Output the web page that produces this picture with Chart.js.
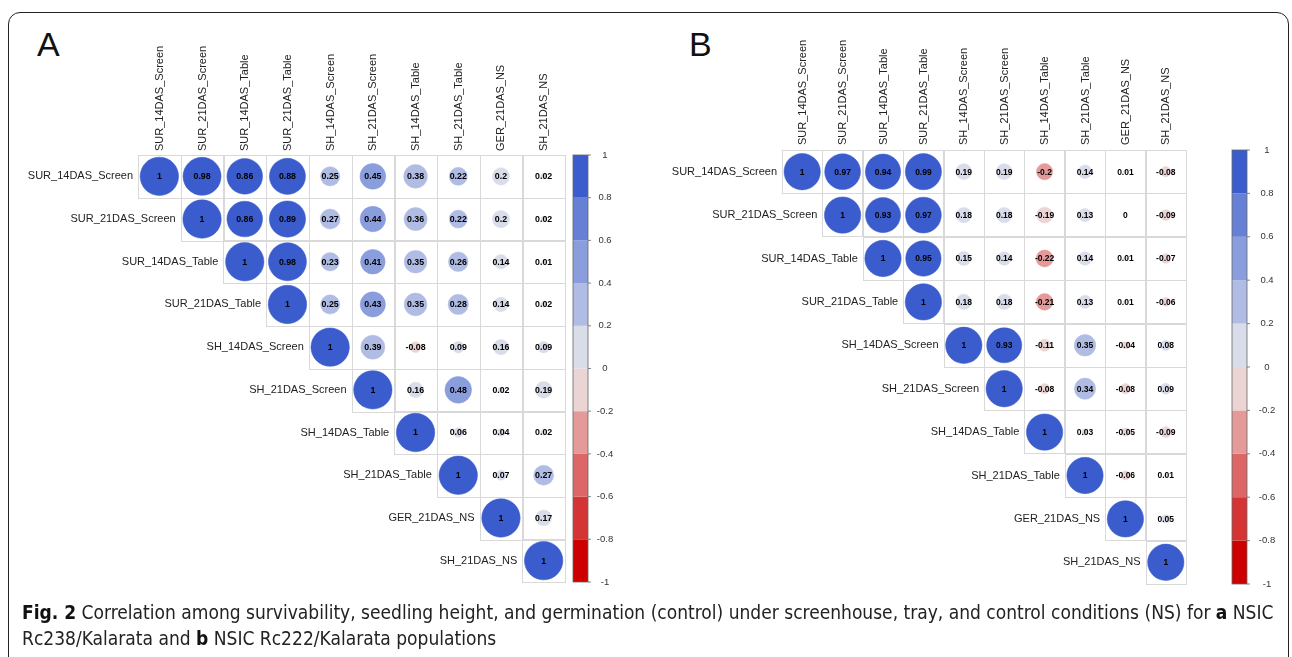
<!DOCTYPE html>
<html>
<head>
<meta charset="utf-8">
<script src="https://cdn.jsdelivr.net/npm/chart.js@4.4.1/dist/chart.umd.min.js"></script>
<style>
  html, body { margin: 0; padding: 0; background: #fff; }
  body { width: 1292px; height: 657px; position: relative; overflow: hidden; font-family: "Liberation Sans", Arial, sans-serif; }
  #frame { position: absolute; left: 8px; top: 12px; width: 1281px; height: 720px; border: 1.5px solid #222; border-radius: 12px; box-sizing: border-box; }
  .panel { position: absolute; top: 0; width: 646px; height: 600px; }
  .tag { position: absolute; top: 27px; font-size: 34px; line-height: 34px; color: #111; }
  #caption { position: absolute; left: 22px; top: 599px; font-family: "DejaVu Sans Condensed", "DejaVu Sans", sans-serif; font-size: 16px; line-height: 26px; color: #222; white-space: nowrap; }
  #caption b { color: #111; }
</style>
</head>
<body>
<div id="frame"></div>
<div class="tag" style="left:37px">A</div>
<div class="tag" style="left:689px">B</div>
<div class="panel" style="left:0"><canvas id="chartA" width="646" height="600"></canvas></div>
<div class="panel" style="left:646px"><canvas id="chartB" width="646" height="600"></canvas></div>
<div id="caption">
  <span id="cap1"><b>Fig. 2</b> Correlation among survivability, seedling height, and germination (control) under screenhouse, tray, and control conditions (NS) for <b>a</b> NSIC</span><br>
  <span>Rc238/Kalarata and <b>b</b> NSIC Rc222/Kalarata populations</span>
</div>
<script>
/* ================= DATA ================= */
const varNames = [
  "SUR_14DAS_Screen", "SUR_21DAS_Screen", "SUR_14DAS_Table", "SUR_21DAS_Table",
  "SH_14DAS_Screen", "SH_21DAS_Screen", "SH_14DAS_Table", "SH_21DAS_Table",
  "GER_21DAS_NS", "SH_21DAS_NS"
];

// upper triangle, each row starts at the diagonal
const corrA = [
  [1, 0.98, 0.86, 0.88, 0.25, 0.45, 0.38, 0.22, 0.2, 0.02],
  [1, 0.86, 0.89, 0.27, 0.44, 0.36, 0.22, 0.2, 0.02],
  [1, 0.98, 0.23, 0.41, 0.35, 0.26, 0.14, 0.01],
  [1, 0.25, 0.43, 0.35, 0.28, 0.14, 0.02],
  [1, 0.39, -0.08, 0.09, 0.16, 0.09],
  [1, 0.16, 0.48, 0.02, 0.19],
  [1, 0.06, 0.04, 0.02],
  [1, 0.07, 0.27],
  [1, 0.17],
  [1]
];

const corrB = [
  [1, 0.97, 0.94, 0.99, 0.19, 0.19, -0.2, 0.14, 0.01, -0.08],
  [1, 0.93, 0.97, 0.18, 0.18, -0.19, 0.13, 0, -0.09],
  [1, 0.95, 0.15, 0.14, -0.22, 0.14, 0.01, -0.07],
  [1, 0.18, 0.18, -0.21, 0.13, 0.01, -0.06],
  [1, 0.93, -0.11, 0.35, -0.04, 0.08],
  [1, -0.08, 0.34, -0.08, 0.09],
  [1, 0.03, -0.05, -0.09],
  [1, -0.06, 0.01],
  [1, 0.05],
  [1]
];

const legendTicks = [1, 0.8, 0.6, 0.4, 0.2, 0, -0.2, -0.4, -0.6, -0.8, -1];

// colour bins from -1 up to 1
const binColors = [
  "#CC0000", "#D43434", "#DD6767", "#E59A9A", "#EBD4D4",
  "#D9DDEA", "#B0BCE3", "#8A9DDD", "#6680D6", "#3B5CCD"
];

/* ================= HELPERS ================= */
function binColor(v) {
  let idx = Math.ceil((v + 1) / 2 * binColors.length) - 1;
  return binColors[Math.max(0, Math.min(binColors.length - 1, idx))];
}

function toPoints(rows) {
  const pts = [];
  rows.forEach((row, i) => {
    row.forEach((v, k) => {
      pts.push({ x: varNames[i + k], y: varNames[i], v });
    });
  });
  return pts;
}

function cellSize(chart) {
  const xs = chart.scales.x, ys = chart.scales.y;
  return {
    w: (xs.right - xs.left) / varNames.length,
    h: (ys.bottom - ys.top) / varNames.length
  };
}

const labelFont = "11px 'Liberation Sans', Arial, sans-serif";

/* ================= PLUGIN: grid, labels, numbers, colour bar ================= */
const corrDecor = {
  id: "corrDecor",
  beforeDatasetsDraw(chart, args, opts) {
    const { ctx } = chart;
    const xs = chart.scales.x, ys = chart.scales.y;
    const c = cellSize(chart);
    ctx.save();
    ctx.strokeStyle = "#D9D9D9";
    ctx.lineWidth = 1;
    opts.rows.forEach((row, i) => {
      row.forEach((v, k) => {
        const cx = xs.getPixelForValue(i + k), cy = ys.getPixelForValue(i);
        ctx.strokeRect(Math.round(cx - c.w / 2) + 0.5, Math.round(cy - c.h / 2) + 0.5, Math.round(c.w), Math.round(c.h));
      });
    });
    ctx.restore();
  },
  afterDatasetsDraw(chart, args, opts) {
    const { ctx } = chart;
    const xs = chart.scales.x, ys = chart.scales.y, cb = chart.scales.cb;
    const c = cellSize(chart);
    ctx.save();

    // coefficients
    ctx.fillStyle = "#000";
    ctx.textAlign = "center";
    ctx.textBaseline = "middle";
    ctx.font = "bold " + opts.numSize + "px 'Liberation Sans', Arial, sans-serif";
    opts.rows.forEach((row, i) => {
      row.forEach((v, k) => {
        ctx.fillText(String(v), xs.getPixelForValue(i + k), ys.getPixelForValue(i) + 0.5);
      });
    });

    // row labels next to the diagonal
    ctx.fillStyle = "#222";
    ctx.textAlign = "right";
    ctx.font = labelFont;
    varNames.forEach((name, i) => {
      ctx.fillText(name, xs.getPixelForValue(i) - c.w / 2 - 5, ys.getPixelForValue(i));
    });

    // column labels, rotated, above the grid
    ctx.textAlign = "left";
    varNames.forEach((name, j) => {
      ctx.save();
      ctx.translate(xs.getPixelForValue(j) + 0.5, chart.chartArea.top - opts.colGap);
      ctx.rotate(-Math.PI / 2);
      ctx.fillText(name, 0, 0);
      ctx.restore();
    });

    // colour bar
    const x0 = chart.chartArea.right + opts.cbGap, w = 15;
    binColors.forEach((col, k) => {
      const lo = -1 + k * 0.2, hi = lo + 0.2;
      const y1 = cb.getPixelForValue(hi), y2 = cb.getPixelForValue(lo);
      ctx.fillStyle = col;
      ctx.fillRect(x0, y1, w, y2 - y1);
    });
    ctx.strokeStyle = "#666";
    ctx.lineWidth = 0.8;
    ctx.strokeRect(x0, cb.getPixelForValue(1), w, cb.getPixelForValue(-1) - cb.getPixelForValue(1));

    ctx.fillStyle = "#333";
    ctx.textAlign = "center";
    ctx.font = "9.5px 'Liberation Sans', Arial, sans-serif";
    legendTicks.forEach(t => {
      const y = cb.getPixelForValue(t);
      ctx.beginPath();
      ctx.moveTo(x0 + w, y);
      ctx.lineTo(x0 + w + 3, y);
      ctx.stroke();
      ctx.fillText(String(t), x0 + w + opts.labelGap, y);
    });
    ctx.restore();
  }
};

/* ================= CHARTS ================= */
function makeChart(id, rows, pad, decor) {
  return new Chart(document.getElementById(id), {
    type: "scatter",
    data: {
      datasets: [{
        data: toPoints(rows),
        pointRadius: ctx => {
          if (!ctx.raw) return 0;
          const c = cellSize(ctx.chart);
          return 0.45 * Math.min(c.w, c.h) * Math.sqrt(Math.abs(ctx.raw.v));
        },
        pointBackgroundColor: ctx => ctx.raw ? binColor(ctx.raw.v) : "#fff",
        pointBorderColor: ctx => ctx.raw ? binColor(ctx.raw.v) : "#fff",
        pointBorderWidth: 0.5
      }]
    },
    options: {
      responsive: false,
      animation: false,
      events: [],
      layout: { padding: pad },
      plugins: {
        legend: { display: false },
        tooltip: { enabled: false },
        corrDecor: decor
      },
      scales: {
        x: {
          type: "category",
          labels: varNames,
          position: "top",
          offset: true,
          grid: { display: false, drawTicks: false },
          border: { display: false },
          ticks: { display: false },
          afterFit: s => { s.height = 115; }
        },
        y: {
          type: "category",
          labels: varNames,
          offset: true,
          display: false
        },
        cb: {
          type: "linear",
          position: "right",
          min: -1,
          max: 1,
          display: false
        }
      }
    },
    plugins: [corrDecor]
  });
}

makeChart("chartA", corrA, { left: 138, right: 81, top: 40, bottom: 18 },
  { rows: corrA, cbGap: 8, labelGap: 17, numSize: 8.8, colGap: 4 });
makeChart("chartB", corrB, { left: 136, right: 106, top: 35, bottom: 16 },
  { rows: corrB, cbGap: 46, labelGap: 20, numSize: 8.5, colGap: 5 });

/* ================= CAPTION FIT ================= */
const cap1 = document.getElementById("cap1");
const capW = cap1.getBoundingClientRect().width;
document.getElementById("caption").style.fontSize = (16 * 1252 / capW).toFixed(2) + "px";
</script>
</body>
</html>
